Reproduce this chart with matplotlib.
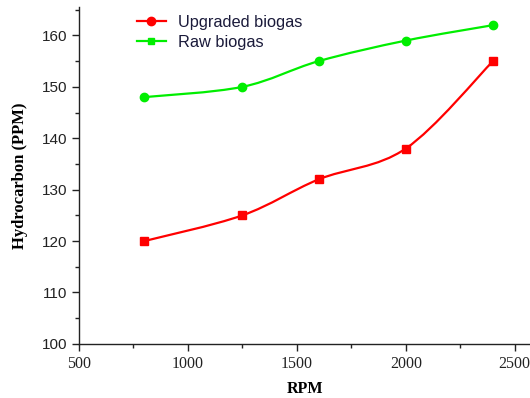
#!/usr/bin/env python3

import numpy as np
import matplotlib
matplotlib.use('Agg')
import matplotlib.pyplot as plt
from matplotlib.path import Path
from matplotlib.patches import PathPatch
from matplotlib.lines import Line2D
from matplotlib.ticker import MultipleLocator

RPM = [800, 1250, 1600, 2000, 2400]
UPGRADED = [120, 125, 132, 138, 155]
RAW = [148, 150, 155, 159, 162]

RED = '#ff0000'
GREEN = '#00ee00'


# Smooth curve through the points (Catmull-Rom drawn as cubic Bezier segments)
def smooth_path(x, y):
    x = np.asarray(x, float)
    y = np.asarray(y, float)
    pts = np.column_stack([x, y])
    verts = [pts[0]]
    codes = [Path.MOVETO]
    n = len(pts)
    for i in range(n - 1):
        p0 = pts[i - 1] if i > 0 else pts[i]
        p1 = pts[i]
        p2 = pts[i + 1]
        p3 = pts[i + 2] if i + 2 < n else pts[i + 1]
        c1 = p1 + (p2 - p0) / 6.0
        c2 = p2 - (p3 - p1) / 6.0
        verts += [c1, c2, p2]
        codes += [Path.CURVE4] * 3
    return Path(verts, codes)


fig = plt.figure(figsize=(5.3, 3.98), dpi=100)
ax = fig.add_axes([0.149, 0.136, 0.851, 0.846])

for ys, col, mk in [(UPGRADED, RED, 's'), (RAW, GREEN, 'o')]:
    ax.add_patch(PathPatch(smooth_path(RPM, ys), facecolor='none',
                           edgecolor=col, lw=1.6))
    ax.plot(RPM, ys, ls='none', marker=mk, color=col, ms=6)

ax.set_xlim(500, 2570)
ax.set_ylim(100, 165.5)
ax.xaxis.set_major_locator(MultipleLocator(500))
ax.xaxis.set_minor_locator(MultipleLocator(250))
ax.yaxis.set_major_locator(MultipleLocator(10))
ax.yaxis.set_minor_locator(MultipleLocator(5))

for s in ['top', 'right']:
    ax.spines[s].set_visible(False)
for s in ['left', 'bottom']:
    ax.spines[s].set_linewidth(1.0)
    ax.spines[s].set_color('#222222')

ax.tick_params(which='major', direction='out', length=5, width=1.0,
               color='#222222', labelcolor='#222222')
ax.tick_params(which='minor', direction='out', length=3, width=1.0,
               color='#222222')
for lbl in ax.get_xticklabels():
    lbl.set_family('Liberation Serif')
    lbl.set_fontsize(11.5)
for lbl in ax.get_yticklabels():
    lbl.set_family('Liberation Sans')
    lbl.set_fontsize(11)

ax.set_xlabel('RPM', family='Liberation Serif', fontweight='bold',
              fontsize=11.5, labelpad=7)
ax.set_ylabel('Hydrocarbon (PPM)', family='Liberation Serif',
              fontweight='bold', fontsize=12, labelpad=10)

handles = [
    Line2D([], [], color=RED, marker='o', ms=6, lw=1.6),
    Line2D([], [], color=GREEN, marker='s', ms=5, lw=1.6),
]
ax.legend(handles, ['Upgraded biogas', 'Raw biogas'], loc='upper left',
          bbox_to_anchor=(0.095, 1.02), frameon=False, handlelength=1.8,
          prop={'family': 'Liberation Sans', 'size': 11.8},
          labelspacing=0.3, handletextpad=0.75, labelcolor='#1a1a3a')

fig.savefig('out.png', dpi=100)
